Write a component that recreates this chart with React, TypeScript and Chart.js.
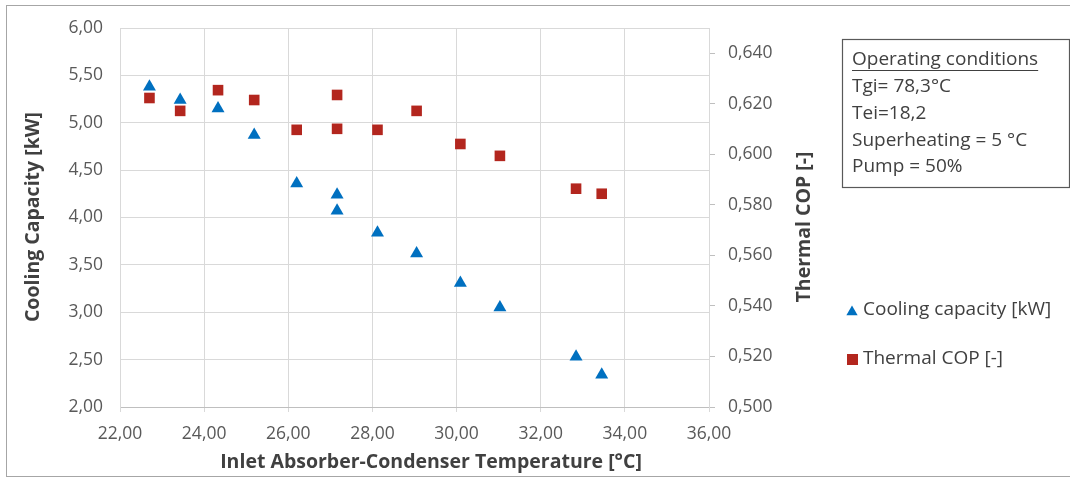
import React, { useEffect, useRef } from 'react';
import { Chart, registerables } from 'chart.js';

Chart.register(...registerables);

// ---- Data ----
const inletTemps = [22.7, 23.43, 24.33, 25.19, 26.2, 27.16, 27.16, 28.12, 29.05, 30.09, 31.03, 32.84, 33.45];
const coolingCapacity = [5.38, 5.24, 5.15, 4.87, 4.36, 4.24, 4.07, 3.84, 3.62, 3.31, 3.05, 2.53, 2.34];
const thermalCOP = [0.6223, 0.6172, 0.6254, 0.6215, 0.6097, 0.6235, 0.6101, 0.6097, 0.6172, 0.6041, 0.5994, 0.5864, 0.5844];

const xTickValues = [22, 24, 26, 28, 30, 32, 34, 36];
const leftTickValues = [2, 2.5, 3, 3.5, 4, 4.5, 5, 5.5, 6];
const rightTickValues = [0.5, 0.52, 0.54, 0.56, 0.58, 0.6, 0.62, 0.64];

const seriesNames = ['Cooling capacity [kW]', 'Thermal COP [-]'];
const xTitle = 'Inlet Absorber-Condenser Temperature [°C]';
const leftTitle = 'Cooling Capacity [kW]';
const rightTitle = 'Thermal COP [-]';
const conditionsTitle = 'Operating conditions';
const conditionsLines = ['Tgi= 78,3°C', 'Tei=18,2', 'Superheating = 5 °C', 'Pump = 50%'];

const FONT = '"Open Sans", sans-serif';
const BLUE = '#0070C0';
const RED = '#B3261E';
const TEXT = '#404040';
const TICK = '#595959';

const fmt = (v: number, d: number) => v.toFixed(d).replace('.', ',');

const drawTriangle = (ctx: CanvasRenderingContext2D, x: number, y: number, r: number) => {
  ctx.beginPath();
  ctx.moveTo(x, y - r);
  ctx.lineTo(x + r * Math.sin((2 * Math.PI) / 3), y - r * Math.cos((2 * Math.PI) / 3));
  ctx.lineTo(x + r * Math.sin((4 * Math.PI) / 3), y - r * Math.cos((4 * Math.PI) / 3));
  ctx.closePath();
  ctx.fill();
};

const decorPlugin = {
  id: 'decor',
  afterDraw(chart: any) {
    const ctx: CanvasRenderingContext2D = chart.ctx;
    ctx.save();
    // outer frame
    ctx.strokeStyle = '#a6a6a6';
    ctx.lineWidth = 1;
    ctx.strokeRect(6.5, 5.5, 1070, 471);

    // axis titles
    ctx.fillStyle = TEXT;
    ctx.font = `bold 19.5px ${FONT}`;
    ctx.textAlign = 'center';
    ctx.textBaseline = 'middle';
    ctx.fillText(xTitle, 431, 462);

    ctx.save();
    ctx.translate(33, 217);
    ctx.rotate(-Math.PI / 2);
    ctx.fillText(leftTitle, 0, 0);
    ctx.restore();

    ctx.save();
    ctx.translate(804, 227);
    ctx.rotate(-Math.PI / 2);
    ctx.fillText(rightTitle, 0, 0);
    ctx.restore();

    // operating conditions box
    ctx.strokeStyle = '#595959';
    ctx.lineWidth = 1.2;
    ctx.strokeRect(842.5, 39.5, 227, 148);
    ctx.font = `19px ${FONT}`;
    ctx.textAlign = 'left';
    ctx.fillStyle = TEXT;
    ctx.fillText(conditionsTitle, 852, 60);
    const w = ctx.measureText(conditionsTitle).width;
    ctx.strokeStyle = TEXT;
    ctx.lineWidth = 1;
    ctx.beginPath();
    ctx.moveTo(852, 70.5);
    ctx.lineTo(852 + w, 70.5);
    ctx.stroke();
    conditionsLines.forEach((line, i) => {
      ctx.fillText(line, 852, 86.5 + i * 26.8);
    });

    // legend
    ctx.fillStyle = BLUE;
    drawTriangle(ctx, 852, 312, 6.5);
    ctx.fillStyle = RED;
    ctx.fillRect(847, 354, 11, 11);
    ctx.fillStyle = TEXT;
    ctx.font = `19px ${FONT}`;
    ctx.fillText(seriesNames[0], 863, 310);
    ctx.fillText(seriesNames[1], 863, 359);
    ctx.restore();
  },
};

export default function App() {
  const canvasRef = useRef<HTMLCanvasElement | null>(null);

  useEffect(() => {
    document.body.style.margin = '0';
    const canvas = canvasRef.current;
    if (!canvas) return;
    const chart = new Chart(canvas, {
      type: 'scatter',
      data: {
        datasets: [
          {
            label: seriesNames[0],
            data: inletTemps.map((x, i) => ({ x, y: coolingCapacity[i] })),
            yAxisID: 'y',
            pointStyle: 'triangle',
            pointRadius: 7.5,
            pointHoverRadius: 7.5,
            backgroundColor: BLUE,
            borderColor: BLUE,
            borderWidth: 0,
          },
          {
            label: seriesNames[1],
            data: inletTemps.map((x, i) => ({ x, y: thermalCOP[i] })),
            yAxisID: 'y1',
            pointStyle: 'rect',
            pointRadius: 7.5,
            pointHoverRadius: 7.5,
            backgroundColor: RED,
            borderColor: RED,
            borderWidth: 0,
          },
        ],
      },
      options: {
        animation: false,
        responsive: false,
        devicePixelRatio: 1,
        layout: { padding: { left: 0, top: 28, right: 291, bottom: 0 } },
        plugins: {
          legend: { display: false },
          tooltip: { enabled: false },
        },
        scales: {
          x: {
            type: 'linear',
            position: 'bottom',
            min: 22,
            max: 36,
            afterBuildTicks: (s: any) => {
              s.ticks = xTickValues.map((v) => ({ value: v }));
            },
            afterFit: (s: any) => {
              s.height = 71;
            },
            ticks: {
              callback: (v: any) => fmt(Number(v), 2),
              font: { size: 17.5, family: FONT },
              color: TICK,
              padding: 12,
              maxRotation: 0,
              autoSkip: false,
            },
            grid: { color: '#d9d9d9', tickLength: 5, drawTicks: true },
            border: { color: '#bfbfbf' },
          },
          y: {
            type: 'linear',
            position: 'left',
            min: 2,
            max: 6,
            afterBuildTicks: (s: any) => {
              s.ticks = leftTickValues.map((v) => ({ value: v }));
            },
            afterFit: (s: any) => {
              s.width = 120;
            },
            ticks: {
              callback: (v: any) => fmt(Number(v), 2),
              font: { size: 17.5, family: FONT },
              color: TICK,
              padding: 17,
            },
            grid: { color: '#d9d9d9', drawTicks: false },
            border: { color: '#d9d9d9' },
          },
          y1: {
            type: 'linear',
            position: 'right',
            min: 0.5,
            max: 0.65,
            afterBuildTicks: (s: any) => {
              s.ticks = rightTickValues.map((v) => ({ value: v }));
            },
            afterFit: (s: any) => {
              s.width = 70;
            },
            ticks: {
              callback: (v: any) => fmt(Number(v), 3),
              font: { size: 17.5, family: FONT },
              color: TICK,
              padding: 13,
            },
            grid: { drawOnChartArea: false, color: '#bfbfbf', tickLength: 6 },
            border: { color: '#d9d9d9' },
          },
        },
      },
      plugins: [decorPlugin],
    } as any);
    return () => chart.destroy();
  }, []);

  return (
    <div style={{ position: 'absolute', left: 0, top: 0, width: 1070, height: 478, background: '#fff' }}>
      <canvas ref={canvasRef} width={1070} height={478} style={{ display: 'block' }} />
    </div>
  );
}
